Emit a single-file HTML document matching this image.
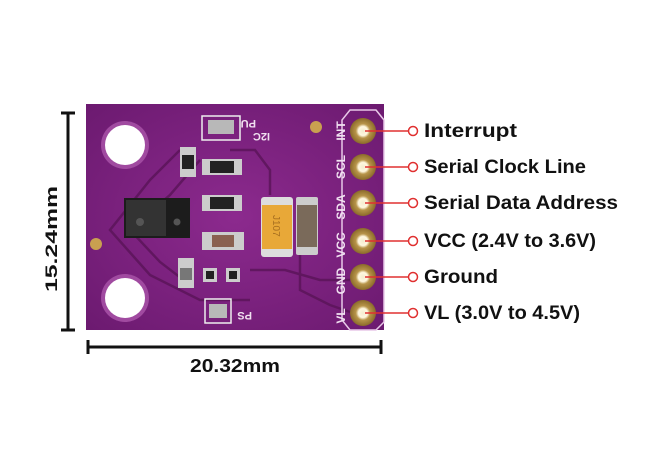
<!DOCTYPE html>
<html><head><meta charset="utf-8"><style>
html,body{margin:0;padding:0;background:#fff;}
body{width:650px;height:445px;overflow:hidden;}
text{font-family:"Liberation Sans","DejaVu Sans",sans-serif;}
</style></head><body>
<svg width="650" height="445" viewBox="0 0 650 445" xmlns="http://www.w3.org/2000/svg">
<defs>
<radialGradient id="pin" cx="50%" cy="50%" r="50%">
<stop offset="0" stop-color="#f4ecd0"/><stop offset="0.35" stop-color="#fff8e0"/><stop offset="0.55" stop-color="#b8954a"/><stop offset="1" stop-color="#8a6a2a"/></radialGradient>
<radialGradient id="brd" cx="50%" cy="50%" r="70%">
<stop offset="0" stop-color="#8c2a8e"/><stop offset="1" stop-color="#6c1a70"/></radialGradient>
</defs>
<rect x="86" y="104" width="298" height="226" fill="url(#brd)"/>
<g fill="none" stroke="#5a1458" stroke-width="2.5" opacity="0.8">
<path d="M180 150 L150 180 L110 230 L150 275 L200 300 L250 300"/>
<path d="M200 160 L170 195 L130 230 L160 262 L190 285"/>
<path d="M230 150 L255 150 L270 170 L270 195"/>
<path d="M300 255 L300 290 L330 305 L350 312"/>
<path d="M250 270 L285 270 L320 280 L350 280"/>
</g>
<circle cx="125" cy="145" r="24" fill="#a04aa0"/>
<circle cx="125" cy="145" r="20" fill="#fff"/>
<circle cx="125" cy="298" r="24" fill="#a04aa0"/>
<circle cx="125" cy="298" r="20" fill="#fff"/>
<circle cx="96" cy="244" r="6" fill="#c9a050"/>
<circle cx="316" cy="127" r="6" fill="#c9a050"/>
<path d="M350 110 L376 110 L384 120 L384 322 L376 330 L350 330 L342 320 L342 120 Z" fill="none" stroke="#e8c8e8" stroke-width="1.5"/>
<g>
<circle cx="363" cy="131" r="13" fill="url(#pin)"/>
<circle cx="363" cy="167" r="13" fill="url(#pin)"/>
<circle cx="363" cy="203" r="13" fill="url(#pin)"/>
<circle cx="363" cy="241" r="13" fill="url(#pin)"/>
<circle cx="363" cy="277" r="13" fill="url(#pin)"/>
<circle cx="363" cy="313" r="13" fill="url(#pin)"/>
</g>
<g fill="#f0e0f0" font-size="12" font-weight="bold">
<text transform="translate(345,131) rotate(-90)" text-anchor="middle">INT</text>
<text transform="translate(345,167) rotate(-90)" text-anchor="middle">SCL</text>
<text transform="translate(345,207) rotate(-90)" text-anchor="middle">SDA</text>
<text transform="translate(345,245) rotate(-90)" text-anchor="middle">VCC</text>
<text transform="translate(345,281) rotate(-90)" text-anchor="middle">GND</text>
<text transform="translate(345,316) rotate(-90)" text-anchor="middle">VL</text>
<text transform="translate(256,120) rotate(180)" font-size="11">PU</text>
<text transform="translate(270,133) rotate(180)" font-size="11">I2C</text>
<text transform="translate(252,312) rotate(180)" font-size="11">PS</text>
</g>
<rect x="202" y="116" width="38" height="24" fill="none" stroke="#eee" stroke-width="1.5"/>
<rect x="208" y="120" width="26" height="14" fill="#b8b8b8"/>
<rect x="205" y="299" width="26" height="24" fill="none" stroke="#eee" stroke-width="1.5"/>
<rect x="209" y="304" width="18" height="14" fill="#b8b8b8"/>
<g>
<rect x="180" y="147" width="16" height="30" fill="#ccc"/><rect x="182" y="155" width="12" height="14" fill="#222"/>
<rect x="202" y="159" width="40" height="16" fill="#ccc"/><rect x="210" y="161" width="24" height="12" fill="#222"/>
<rect x="202" y="195" width="40" height="16" fill="#ccc"/><rect x="210" y="197" width="24" height="12" fill="#222"/>
<rect x="202" y="232" width="42" height="18" fill="#ccc"/><rect x="212" y="235" width="22" height="12" fill="#8a6050"/>
<rect x="178" y="258" width="16" height="30" fill="#ccc"/><rect x="180" y="268" width="12" height="12" fill="#777"/>
<rect x="203" y="268" width="14" height="14" fill="#ccc"/><rect x="226" y="268" width="14" height="14" fill="#ccc"/>
<rect x="206" y="271" width="8" height="8" fill="#222"/><rect x="229" y="271" width="8" height="8" fill="#222"/>
</g>
<rect x="124" y="198" width="66" height="40" fill="#1c1c1c"/>
<rect x="126" y="200" width="40" height="36" fill="#333"/>
<circle cx="140" cy="222" r="4" fill="#555"/><circle cx="177" cy="222" r="3.5" fill="#555"/>
<rect x="261" y="197" width="32" height="60" rx="3" fill="#ddd"/>
<rect x="262" y="205" width="30" height="44" fill="#e8a838"/>
<text transform="translate(273,215) rotate(90)" font-size="10" fill="#a87020">J107</text>
<rect x="296" y="197" width="22" height="58" rx="2" fill="#ccc"/>
<rect x="297" y="205" width="20" height="42" fill="#7a6a5a"/>
<g stroke="#e03030" stroke-width="1.5" fill="#fff">
<line x1="365" y1="131" x2="409" y2="131"/><circle cx="413" cy="131" r="4.5"/>
<line x1="365" y1="167" x2="409" y2="167"/><circle cx="413" cy="167" r="4.5"/>
<line x1="365" y1="203" x2="409" y2="203"/><circle cx="413" cy="203" r="4.5"/>
<line x1="365" y1="241" x2="409" y2="241"/><circle cx="413" cy="241" r="4.5"/>
<line x1="365" y1="277" x2="409" y2="277"/><circle cx="413" cy="277" r="4.5"/>
<line x1="365" y1="313" x2="409" y2="313"/><circle cx="413" cy="313" r="4.5"/>
</g>
<g fill="#111" font-size="19" font-weight="bold">
<text x="424" y="137" textLength="93" lengthAdjust="spacingAndGlyphs">Interrupt</text>
<text x="424" y="173" textLength="162" lengthAdjust="spacingAndGlyphs">Serial Clock Line</text>
<text x="424" y="209" textLength="194" lengthAdjust="spacingAndGlyphs">Serial Data Address</text>
<text x="424" y="247" textLength="172" lengthAdjust="spacingAndGlyphs">VCC (2.4V to 3.6V)</text>
<text x="424" y="283" textLength="74" lengthAdjust="spacingAndGlyphs">Ground</text>
<text x="424" y="319" textLength="156" lengthAdjust="spacingAndGlyphs">VL (3.0V to 4.5V)</text>
</g>
<g stroke="#111" stroke-width="3">
<line x1="68" y1="113" x2="68" y2="330"/>
<line x1="61" y1="113" x2="75" y2="113"/><line x1="61" y1="330" x2="75" y2="330"/>
<line x1="88" y1="347" x2="381" y2="347"/>
<line x1="88" y1="340" x2="88" y2="354"/><line x1="381" y1="340" x2="381" y2="354"/>
</g>
<text transform="translate(57,239) rotate(-90)" text-anchor="middle" font-size="17" font-weight="bold" fill="#111" textLength="106" lengthAdjust="spacingAndGlyphs">15.24mm</text>
<text x="190" y="372" font-size="18" font-weight="bold" fill="#111" textLength="90" lengthAdjust="spacingAndGlyphs">20.32mm</text>
</svg>
</body></html>
